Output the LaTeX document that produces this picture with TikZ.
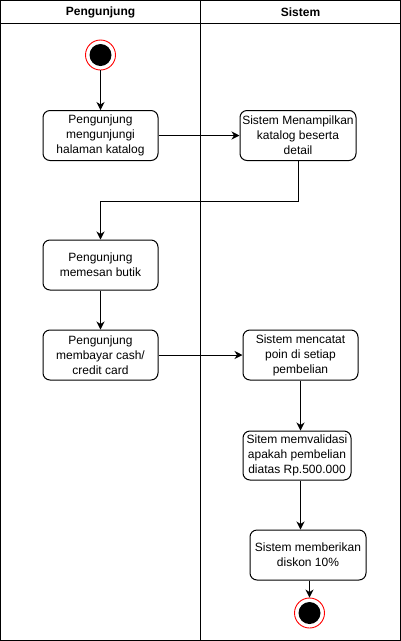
\documentclass[tikz,border=0pt]{standalone}
\usepackage{fontspec}
\setmainfont{Liberation Sans}
\usetikzlibrary{arrows.meta}
\begin{document}
\begin{tikzpicture}[x=1pt,y=-1pt,
  act/.style={draw,rounded corners=7pt,line width=1pt,align=center,minimum width=115pt,minimum height=50pt,inner sep=0pt,font=\fontsize{12}{15}\selectfont},
  flow/.style={line width=1pt,-{Stealth[length=8pt,width=8pt,inset=2.5pt]}},
  lane/.style={line width=1pt},
  ring/.style={circle,draw=red,line width=0.9pt,fill=white,minimum size=30pt,inner sep=0pt},
  dot/.style={circle,fill=black,minimum size=22pt,inner sep=0pt},
  head/.style={font=\fontsize{12}{14}\selectfont\bfseries}]
\useasboundingbox (0,0) rectangle (401,641);
% swimlanes
\draw[lane] (0.5,0.5) rectangle (400.5,640.5);
\draw[lane] (0.5,23.5) -- (400.5,23.5);
\draw[lane] (200.5,0.5) -- (200.5,640.5);
\node[head] (h1) at (100.5,12) {Pengunjung};
\node[head] (h2) at (300.5,12) {Sistem};
% start
\node[ring] (start) at (100.5,55) {};
\node[dot] (startdot) at (start) {};
% activities
\node[act] (b1) at (100.5,135.5) {Pengunjung\\mengunjungi\\halaman katalog};
\node[act,minimum width=116pt] (b2) at (298,135.5) {Sistem Menampilkan\\katalog beserta\\detail};
\node[act] (b3) at (100.5,265) {Pengunjung\\memesan butik};
\node[act] (b4) at (100.5,355) {Pengunjung\\membayar cash/\\credit card};
\node[act] (b5) at (300.5,355) {Sistem mencatat\\poin di setiap\\pembelian};
\node[act,minimum width=108pt,minimum height=49pt] (b6) at (297,455.5) {Sitem memvalidasi\\apakah pembelian\\diatas Rp.500.000};
\node[act,minimum width=116pt] (b7) at (308,555) {Sistem memberikan\\diskon 10\%};
% end
\node[ring] (end) at (309.5,613) {};
\node[dot] (enddot) at (end) {};
% flows
\draw[flow] (start) -- (b1);
\draw[flow] (b1) -- (b2);
\draw[flow] (b2.south) -- ++(0,40) -| (b3.north);
\draw[flow] (b3) -- (b4);
\draw[flow] (b4) -- (b5);
\draw[flow] (b5.south) -- (b5.south |- b6.north);
\draw[flow] (b6.south -| b5.south) -- (b7.north -| b5.south);
\draw[flow] (b7.south -| end.north) -- (end.north);
\end{tikzpicture}
\end{document}
